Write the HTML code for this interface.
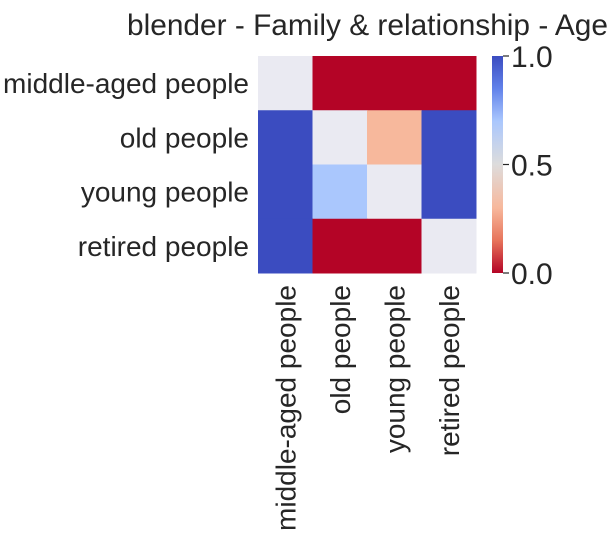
<!DOCTYPE html>
<html><head><style>
body{margin:0;background:#fff;}
svg text{font-family:"Liberation Sans",Arial,sans-serif;fill:#262626;}
</style></head><body>
<svg id="chart" width="616" height="532">
<defs><linearGradient id="cb" x1="0" y1="1" x2="0" y2="0"></linearGradient></defs>
<text x="127" y="35" font-size="30" textLength="481" lengthAdjust="spacingAndGlyphs">blender - Family &amp; relationship - Age</text>
<g id="cells"></g><g id="ylabels"></g><g id="xlabels"></g><g id="cbar"></g>
</svg>
<script>
const categories=["middle-aged people","old people","young people","retired people"];
const values=[[null,0,0,0],[1,null,0.3,1],[1,0.7,null,1],[1,0,0,null]];
const cbTicks=[0,0.5,1];
const cbTickLabels=["0.0","0.5","1.0"];
const NS="http://www.w3.org/2000/svg";
const X0=258,Y0=56,W=218,H=217,n=categories.length,cw=W/n,ch=H/n;
const stops=[[0,[59,76,192]],[0.15,[98,130,234]],[0.3,[170,199,253]],[0.5,[221,220,220]],[0.7,[247,184,156]],[0.85,[231,116,91]],[1,[180,4,38]]];
function cool(t){for(let i=1;i<stops.length;i++){if(t<=stops[i][0]){const a=stops[i-1],b=stops[i],f=(t-a[0])/(b[0]-a[0]);return "rgb("+a[1].map((c,k)=>Math.round(c+(b[1][k]-c)*f)).join(",")+")";}}return "rgb(180,4,38)";}
function color(v){return v==null?"#eaeaf2":cool(1-v);}
function mk(t,a,p){const e=document.createElementNS(NS,t);for(const k in a)e.setAttribute(k,a[k]);p.appendChild(e);return e;}
const cells=document.getElementById('cells');
values.forEach((row,i)=>row.forEach((v,j)=>{
 const r=mk('rect',{x:X0+j*cw,y:Y0+i*ch,width:cw+0.5,height:ch+0.5,fill:color(v)},cells);
 
 
}));
const yl=document.getElementById('ylabels'),xl=document.getElementById('xlabels');
categories.forEach((c,i)=>{
 const t=mk('text',{x:X0-9,y:Y0+(i+0.5)*ch+10,'font-size':28,'text-anchor':'end'},yl);t.textContent=c;
 
 
 const cx=X0+(i+0.5)*cw+10;
 const u=mk('text',{x:0,y:0,'font-size':28,'text-anchor':'end',transform:'translate('+cx+','+(Y0+H+12)+') rotate(-90)'},xl);u.textContent=c;
 
 
});
const g=document.getElementById('cb');
for(let k=0;k<=20;k++){mk('stop',{offset:k/20,'stop-color':cool(1-k/20)},g);}
const cb=document.getElementById('cbar');
const bar=mk('rect',{x:492,y:Y0,width:11,height:H,fill:'url(#cb)'},cb);


cbTicks.forEach((v,k)=>{
 const y=Y0+H-v*H;
 mk('line',{x1:503,x2:509,y1:y,y2:y,stroke:'#262626','stroke-width':1.2},cb);
 const t=mk('text',{x:511,y:y+11,'font-size':30},cb);t.textContent=cbTickLabels[k];
 
 
});
</script>
</body></html>
